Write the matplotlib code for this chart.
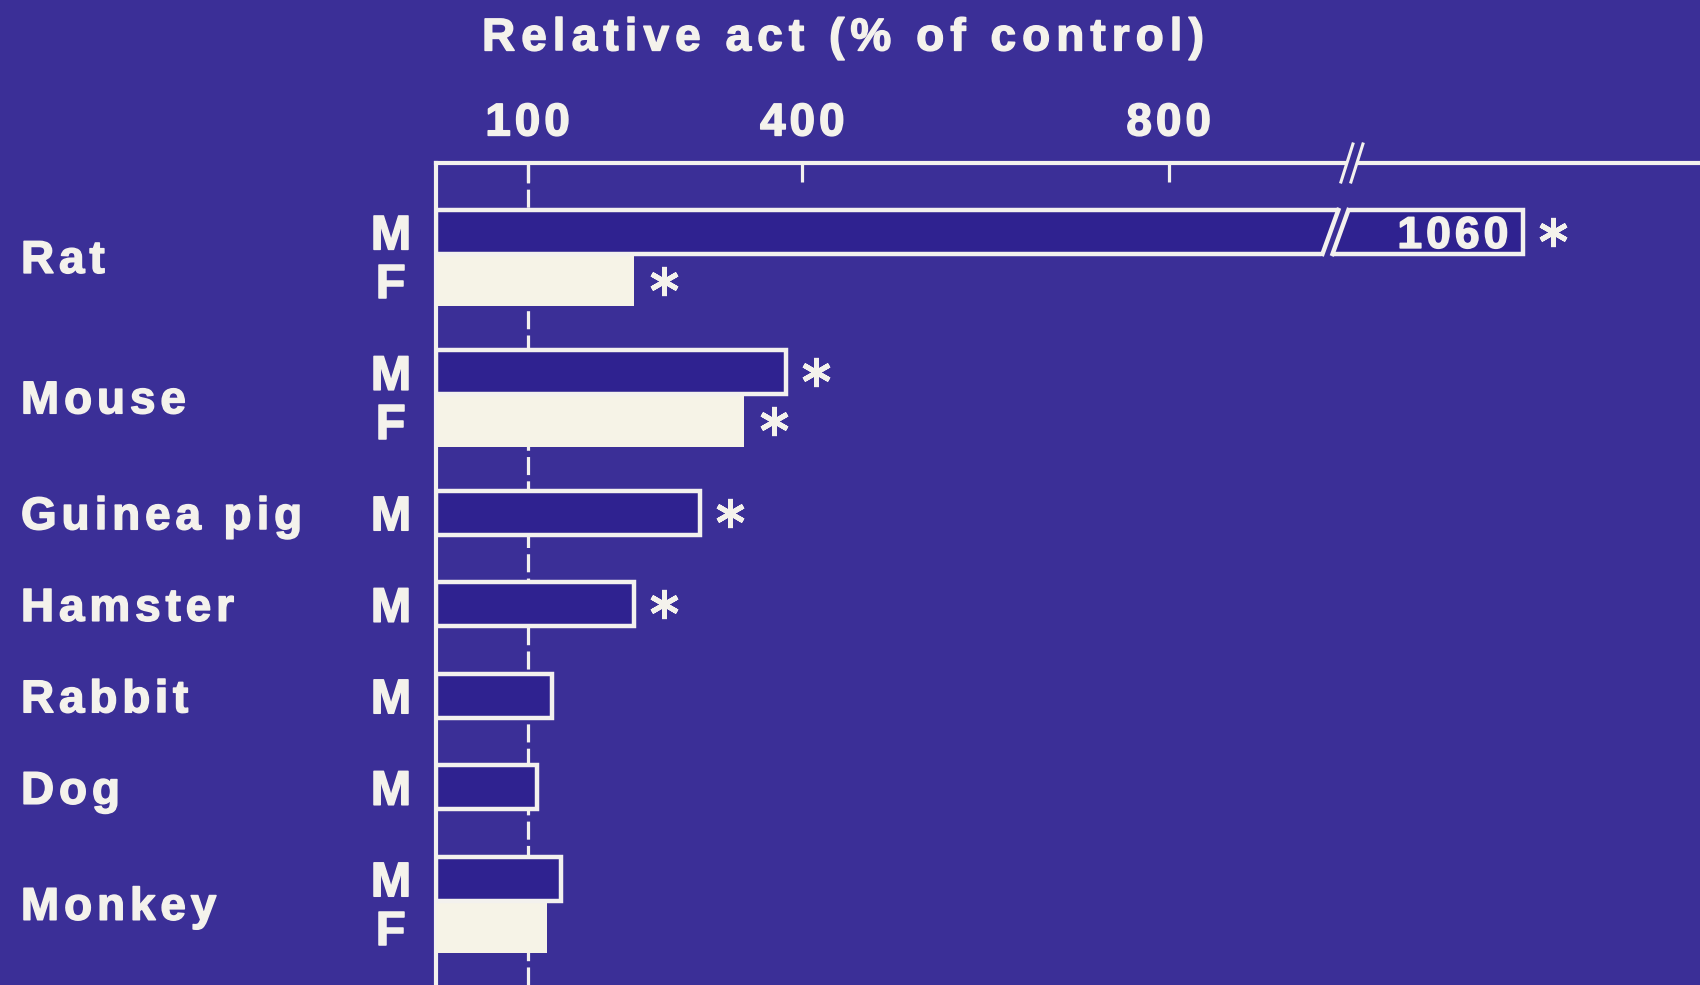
import numpy as np
import matplotlib
matplotlib.use("Agg")
import matplotlib.pyplot as plt
import matplotlib.transforms as mtransforms
import matplotlib.patheffects as pe
from matplotlib.font_manager import FontProperties, findfont
from matplotlib.ft2font import FT2Font
from matplotlib.patches import Polygon

# ---------------- data ----------------
bar_species = ['Rat', 'Rat', 'Mouse', 'Mouse', 'Guinea pig', 'Hamster',
               'Rabbit', 'Dog', 'Monkey', 'Monkey']
bar_sex = ['M', 'F', 'M', 'F', 'M', 'M', 'M', 'M', 'M', 'F']
bar_value = [1060, 216, 382, 336, 288, 216, 127, 110, 137, 121]
bar_signif = [True, True, True, True, True, True, False, False, False, False]
tick_values = [100, 400, 800]
control_value = 100
title_text = 'Relative act (% of control)'

# ---------------- style ----------------
BG = '#3b2f97'
M_FILL = '#2f2290'
LINE = '#f3f1ee'
F_FILL = '#f6f3e7'
TEXT = '#f4f2ec'
DPI = 100
W, H = 1700, 985
FAMILY = 'Liberation Sans'

plt.rcParams['lines.scale_dashes'] = False

fig = plt.figure(figsize=(W / DPI, H / DPI), dpi=DPI, facecolor=BG)
AX_LEFT_PX, AX_TOP_PX = 436, 163
ax = fig.add_axes([AX_LEFT_PX / W, 0, 1 - AX_LEFT_PX / W, 1 - AX_TOP_PX / H])
ax.set_facecolor(BG)

# broken x scale: beyond KNEE the axis is drawn with a different scale
KNEE = 1000
STRETCH = 3.12


def fwd(x):
    x = np.asarray(x, float)
    return np.where(x <= KNEE, x, KNEE + (x - KNEE) * STRETCH)


def inv(x):
    x = np.asarray(x, float)
    return np.where(x <= KNEE, x, KNEE + (x - KNEE) / STRETCH)


ax.set_xscale('function', functions=(fwd, inv))
XMAX = 1121.8
YLIM = (8.23, -0.754)

# vertical layout
ROW_STEP, PAIR_STEP = 1.0, 0.535
M_H, F_H = 0.48, 0.55
ypos = []
for i, sp in enumerate(bar_species):
    if i == 0:
        ypos.append(0.0)
    else:
        ypos.append(ypos[-1] + (PAIR_STEP if sp == bar_species[i - 1] else ROW_STEP))
ypos = np.array(ypos)

# control dashed line
ax.axvline(control_value, color=LINE, lw=2.3, dashes=(13, 4.5), zorder=1)

# bars
BAR_LW = 3.2
for y, sex, v in zip(ypos, bar_sex, bar_value):
    if sex == 'M':
        ax.barh(y, v, height=M_H, left=0, color=M_FILL, edgecolor=LINE,
                linewidth=BAR_LW, zorder=3)
    else:
        ax.barh(y, v, height=F_H, left=0, color=F_FILL, edgecolor='none',
                zorder=2.9)

# break in the long bar
BAR_CUT, GAP_HALF, SLANT, EXT = 982, 5.5, 36.0, 0.06
for i, v in enumerate(bar_value):
    if v > KNEE:
        yc = ypos[i]

        def cut_x(y, side):
            return BAR_CUT + SLANT * (yc - y) + side * GAP_HALF

        y0, y1 = yc - M_H / 2 - EXT, yc + M_H / 2 + EXT
        ax.add_patch(Polygon([[cut_x(y0, -1), y0], [cut_x(y0, 1), y0],
                              [cut_x(y1, 1), y1], [cut_x(y1, -1), y1]],
                             closed=True, facecolor=BG, edgecolor='none', zorder=4))
        t0, t1 = yc - M_H / 2, yc + M_H / 2
        for side in (-1, 1):
            ax.plot([cut_x(t0, side), cut_x(t1, side)], [t0, t1], color=LINE,
                    lw=BAR_LW, zorder=5, solid_capstyle='projecting')

# asterisks
star_trans = mtransforms.offset_copy(ax.transData, fig=fig, x=30, y=0, units='dots')
for y, v, sig in zip(ypos, bar_value, bar_signif):
    if sig:
        ax.plot([v], [y], marker=(6, 2, 0), ms=21, mew=3.6, color=TEXT,
                transform=star_trans, clip_on=False, zorder=6)

# axes styling
ax.set_xticks(tick_values)
ax.set_yticks([])
ax.tick_params(axis='x', which='both', top=True, bottom=False, labeltop=False,
               labelbottom=False, direction='in', length=14, width=2.3, color=LINE)
ax.xaxis.set_minor_locator(matplotlib.ticker.NullLocator())
for s in ['right', 'bottom']:
    ax.spines[s].set_visible(False)
for s in ['top', 'left']:
    ax.spines[s].set_color(LINE)
    ax.spines[s].set_linewidth(3)

ax.set_xlim(0, XMAX)
ax.set_ylim(*YLIM)

# axis break mark "//"
anchor = mtransforms.ScaledTranslation(
    KNEE, 1.0, mtransforms.blended_transform_factory(ax.transData, ax.transAxes))
SL_H, SL_DX = 19, 12


def slash_x(x0, y):
    return x0 + (y + SL_H) * SL_DX / (2 * SL_H)


ax.add_patch(Polygon([[slash_x(-11, -5), -5], [slash_x(-1, -5), -5],
                      [slash_x(-1, 5), 5], [slash_x(-11, 5), 5]], closed=True,
                     facecolor=BG, edgecolor='none', transform=anchor,
                     clip_on=False, zorder=6))
for x0 in (-11, -1):
    ax.plot([slash_x(x0, -SL_H), slash_x(x0, SL_H)], [-SL_H, SL_H], color=LINE,
            lw=2.2, transform=anchor, clip_on=False, zorder=7)

# ---------------- letter-spaced text ----------------
FONT_PATH = findfont(FontProperties(family=FAMILY, weight='bold'))
HEAVY = [pe.withStroke(linewidth=1.1, foreground=TEXT)]


def advances(s, size):
    f = FT2Font(FONT_PATH)
    f.set_size(size, DPI)
    return [f.load_char(ord(c)).linearHoriAdvance / 65536 for c in s]


def spaced_text(s, xy, xycoords, size, spacing, ha='left', dx=0.0):
    adv = advances(s, size)
    total = sum(adv) + spacing * (len(s) - 1)
    x = {'left': 0.0, 'center': -total / 2, 'right': -total}[ha] + dx
    dy = -0.716 * size * DPI / 72 / 2
    for c, a in zip(s, adv):
        if not c.isspace():
            ax.annotate(c, xy=xy, xycoords=xycoords, xytext=(x + a / 2, dy),
                        textcoords='offset pixels', ha='center', va='baseline',
                        fontsize=size, family=FAMILY, fontweight='bold',
                        color=TEXT, annotation_clip=False, zorder=8,
                        path_effects=HEAVY)
        x += a + spacing


# title
spaced_text(title_text, (843 / W, 1 - 34 / H), fig.transFigure, 33, 6.1, ha='center')
# tick labels
tick_tr = mtransforms.blended_transform_factory(ax.transData, fig.transFigure)
for t in tick_values:
    spaced_text(str(t), (t, 1 - 119 / H), tick_tr, 33, 4.0, ha='center')

# species and sex labels
lab_tr = mtransforms.blended_transform_factory(fig.transFigure, ax.transData)
seen = []
for sp in bar_species:
    if sp not in seen:
        seen.append(sp)
for sp in seen:
    ys = [y for y, s in zip(ypos, bar_species) if s == sp]
    spaced_text(sp, (21 / W, float(np.mean(ys))), lab_tr, 33, 4.9, ha='left')
for y, sex in zip(ypos, bar_sex):
    spaced_text(sex, (391 / W, y), lab_tr, 35, 0, ha='center')

# value label for the broken bar
for y, v in zip(ypos, bar_value):
    if v > KNEE:
        spaced_text(str(v), (v, y), ax.transData, 32, 4.0, ha='right', dx=-15)

ax.set_xlim(0, XMAX)
ax.set_ylim(*YLIM)
fig.savefig('out.png', dpi=DPI, facecolor=BG)
